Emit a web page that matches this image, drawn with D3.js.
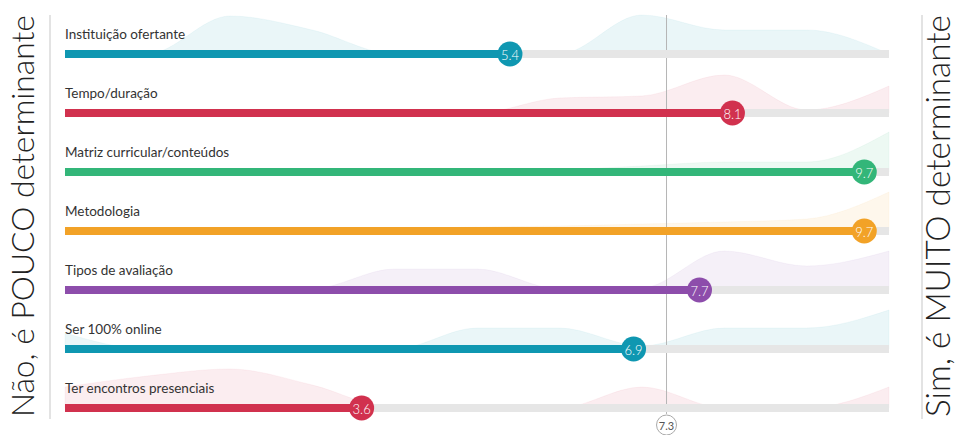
<!DOCTYPE html>
<html>
<head>
<meta charset="utf-8">
<script src="https://cdn.jsdelivr.net/npm/d3@7"></script>
<style>
  html, body { margin: 0; padding: 0; background: #fff; }
  svg { display: block; font-family: "Lato", "Open Sans", sans-serif; }
</style>
</head>
<body>
<svg id="chart" width="957" height="435"></svg>
<script>
// ---- data ----
const categories = [
  "Instituição ofertante",
  "Tempo/duração",
  "Matriz curricular/conteúdos",
  "Metodologia",
  "Tipos de avaliação",
  "Ser 100% online",
  "Ter encontros presenciais"
];
const values = [5.4, 8.1, 9.7, 9.7, 7.7, 6.9, 3.6];
const colors = ["#0f97b1", "#d1314e", "#33b679", "#f2a227", "#8d4dab", "#0f97b1", "#d1314e"];
const scores = [0, 1, 2, 3, 4, 5, 6, 7, 8, 9, 10];
// distribution of answers per score (relative height, background ridges)
const dist1 = [0, 0, 38, 24, 0, 0, 0, 39, 24, 24, 0];
const dist2 = [0, 0, 0, 0, 0, 0, 15, 17, 38, 3, 27];
const dist3 = [0, 0, 0, 0, 0, 0, 2, 6, 10, 10, 40];
const dist4 = [0, 0, 0, 0, 2, 4, 5, 7, 9, 12, 39];
const dist5 = [0, 0, 0, 1, 21, 21, 1, 2, 39, 24, 39];
const dist6 = [16, 0, 0, 0, 0, 21, 21, 3, 21, 21, 39];
const dist7 = [21, 32, 39, 23, 0, 0, 0, 21, 0, 0, 21];
const distributions = [dist1, dist2, dist3, dist4, dist5, dist6, dist7];
const reference = 7.3;
const leftTitle = "Não, é POUCO determinante";
const rightTitle = "Sim, é MUITO determinante";

// ---- layout ----
const svg = d3.select("#chart");
const x = d3.scaleLinear().domain([0, 10]).range([65, 889]);
const y = d3.scalePoint().domain(categories).range([54, 408]);
const h = d3.scaleLinear().domain([0, 40]).range([0, 40]);
const barH = 8;

// side titles
function sideTitle(text, cx) {
  const t = svg.append("text")
    .attr("transform", `translate(${cx},417) rotate(-90)`)
    .attr("font-size", 29)
    .attr("font-weight", 300)
    .attr("fill", "#222")
    .attr("dominant-baseline", "central")
    .text(text);
  const len = t.node().getComputedTextLength();
  t.attr("font-size", 29 * 402 / len);
}
sideTitle(leftTitle, 22);
sideTitle(rightTitle, 937);
svg.append("line").attr("x1", 50).attr("x2", 50).attr("y1", 15).attr("y2", 419)
  .attr("stroke", "#d0d0d0").attr("stroke-width", 1.2);
svg.append("line").attr("x1", 922).attr("x2", 922).attr("y1", 15).attr("y2", 419)
  .attr("stroke", "#d0d0d0").attr("stroke-width", 1.2);

// ridges
const rows = categories.map((c, i) => ({ c, v: values[i], col: colors[i], d: distributions[i] }));
const area = d3.area()
  .x((d, j) => x(scores[j]))
  .curve(d3.curveMonotoneX);
const ridges = svg.append("g");
rows.forEach(r => {
  const cy = y(r.c);
  ridges.append("path")
    .datum(r.d)
    .attr("d", area.y0(cy).y1(d => cy - h(d)))
    .attr("fill", r.col)
    .attr("fill-opacity", 0.085)
    .attr("stroke", r.col)
    .attr("stroke-opacity", 0.05)
    .attr("stroke-width", 1);
});

// reference line
svg.append("line")
  .attr("x1", x(reference)).attr("x2", x(reference))
  .attr("y1", 15).attr("y2", 414)
  .attr("stroke", "#b5b5b5").attr("stroke-width", 1);
svg.append("circle").attr("cx", x(reference)).attr("cy", 425).attr("r", 10)
  .attr("fill", "#fff").attr("stroke", "#aaa").attr("stroke-width", 1);
svg.append("text").attr("x", x(reference)).attr("y", 425)
  .attr("text-anchor", "middle").attr("dominant-baseline", "central")
  .attr("font-size", 11).attr("fill", "#555").text(reference.toFixed(1));

// rows
const g = svg.append("g");
rows.forEach(r => {
  const cy = y(r.c);
  g.append("text").attr("x", x(0)).attr("y", cy - 15)
    .attr("font-size", 13.5).attr("fill", "#333").text(r.c);
  g.append("rect").attr("x", x(0)).attr("y", cy - barH / 2)
    .attr("width", x(10) - x(0)).attr("height", barH).attr("fill", "#e6e6e6");
  g.append("rect").attr("x", x(0)).attr("y", cy - barH / 2)
    .attr("width", x(r.v) - x(0)).attr("height", barH).attr("fill", r.col);
  g.append("circle").attr("cx", x(r.v)).attr("cy", cy).attr("r", 12.5).attr("fill", r.col);
  g.append("text").attr("x", x(r.v)).attr("y", cy + 0.5)
    .attr("text-anchor", "middle").attr("dominant-baseline", "central")
    .attr("font-size", 13).attr("fill", "#fff").attr("font-weight", 300)
    .text(r.v.toFixed(1));
});
</script>
</body>
</html>
